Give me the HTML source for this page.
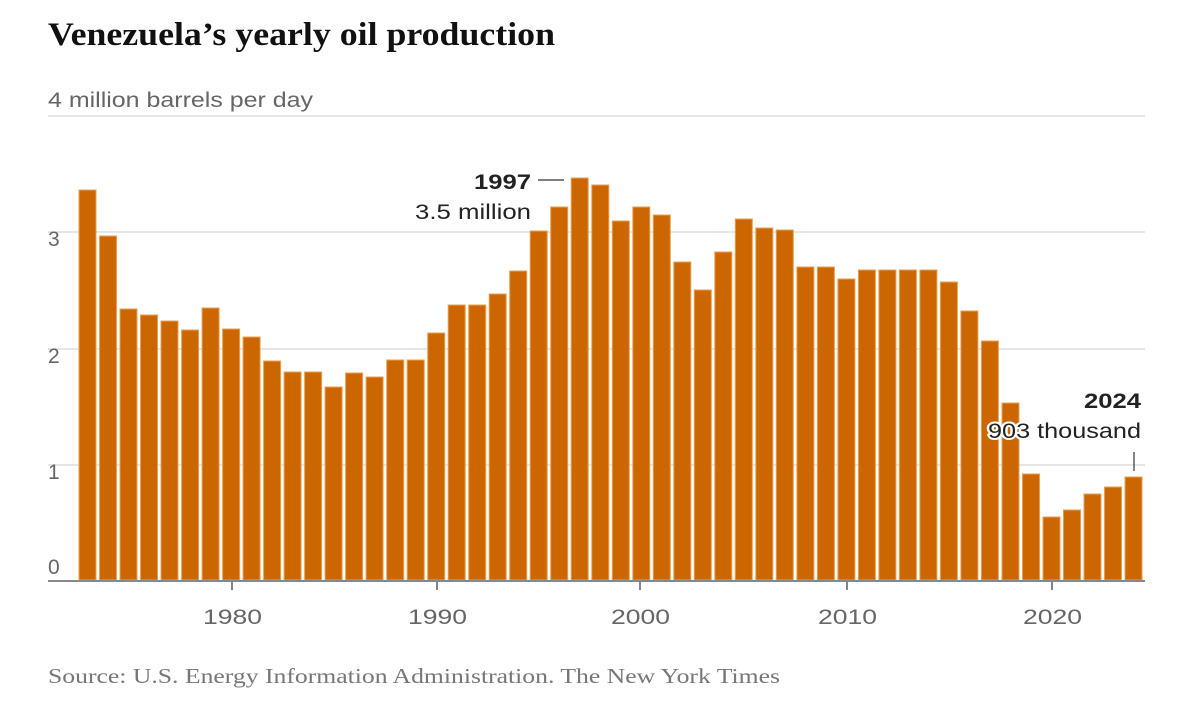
<!DOCTYPE html>
<html><head><meta charset="utf-8"><style>
body{margin:0;background:#fff;width:1200px;height:714px;overflow:hidden}
svg{display:block}
</style></head><body>
<svg width="1200" height="714" xmlns="http://www.w3.org/2000/svg">
<text x="48" y="45" font-family="Liberation Serif, serif" font-weight="bold" font-size="33" fill="#111" textLength="507" lengthAdjust="spacingAndGlyphs">Venezuela’s yearly oil production</text>
<g stroke="#ddd" stroke-width="1.5">
<line x1="48" y1="116" x2="1145" y2="116"/>
<line x1="48" y1="232" x2="1145" y2="232"/>
<line x1="48" y1="349" x2="1145" y2="349"/>
<line x1="48" y1="465" x2="1145" y2="465"/>
</g>
<g font-family="Liberation Sans, sans-serif" font-size="21" fill="#666">
<text x="48" y="107" textLength="265" lengthAdjust="spacingAndGlyphs">4 million barrels per day</text>
<text x="48" y="246">3</text>
<text x="48" y="363">2</text>
<text x="48" y="479">1</text>
<text x="48" y="574">0</text>
</g>
<g fill="#cc6600" stroke="#e8a050" stroke-width="1">
<rect x="79.0" y="190" width="17" height="390"/>
<rect x="99.5" y="236" width="17" height="344"/>
<rect x="120.0" y="309" width="17" height="271"/>
<rect x="140.5" y="315" width="17" height="265"/>
<rect x="161.0" y="321" width="17" height="259"/>
<rect x="181.6" y="330" width="17" height="250"/>
<rect x="202.1" y="308" width="17" height="272"/>
<rect x="222.6" y="329" width="17" height="251"/>
<rect x="243.1" y="337" width="17" height="243"/>
<rect x="263.6" y="361" width="17" height="219"/>
<rect x="284.1" y="372" width="17" height="208"/>
<rect x="304.6" y="372" width="17" height="208"/>
<rect x="325.1" y="387" width="17" height="193"/>
<rect x="345.6" y="373" width="17" height="207"/>
<rect x="366.1" y="377" width="17" height="203"/>
<rect x="386.7" y="360" width="17" height="220"/>
<rect x="407.2" y="360" width="17" height="220"/>
<rect x="427.7" y="333" width="17" height="247"/>
<rect x="448.2" y="305" width="17" height="275"/>
<rect x="468.7" y="305" width="17" height="275"/>
<rect x="489.2" y="294" width="17" height="286"/>
<rect x="509.7" y="271" width="17" height="309"/>
<rect x="530.2" y="231" width="17" height="349"/>
<rect x="550.7" y="207" width="17" height="373"/>
<rect x="571.2" y="178" width="17" height="402"/>
<rect x="591.8" y="185" width="17" height="395"/>
<rect x="612.3" y="221" width="17" height="359"/>
<rect x="632.8" y="207" width="17" height="373"/>
<rect x="653.3" y="215" width="17" height="365"/>
<rect x="673.8" y="262" width="17" height="318"/>
<rect x="694.3" y="290" width="17" height="290"/>
<rect x="714.8" y="252" width="17" height="328"/>
<rect x="735.3" y="219" width="17" height="361"/>
<rect x="755.8" y="228" width="17" height="352"/>
<rect x="776.3" y="230" width="17" height="350"/>
<rect x="796.9" y="267" width="17" height="313"/>
<rect x="817.4" y="267" width="17" height="313"/>
<rect x="837.9" y="279" width="17" height="301"/>
<rect x="858.4" y="270" width="17" height="310"/>
<rect x="878.9" y="270" width="17" height="310"/>
<rect x="899.4" y="270" width="17" height="310"/>
<rect x="919.9" y="270" width="17" height="310"/>
<rect x="940.4" y="282" width="17" height="298"/>
<rect x="960.9" y="311" width="17" height="269"/>
<rect x="981.4" y="341" width="17" height="239"/>
<rect x="1002.0" y="403" width="17" height="177"/>
<rect x="1022.5" y="474" width="17" height="106"/>
<rect x="1043.0" y="517" width="17" height="63"/>
<rect x="1063.5" y="510" width="17" height="70"/>
<rect x="1084.0" y="494" width="17" height="86"/>
<rect x="1104.5" y="487" width="17" height="93"/>
<rect x="1125.0" y="477" width="17" height="103"/>
</g>
<line x1="48" y1="581" x2="1145" y2="581" stroke="#888" stroke-width="2"/>
<g stroke="#333" stroke-width="1.2">
<line x1="232" y1="582" x2="232" y2="590"/>
<line x1="437" y1="582" x2="437" y2="590"/>
<line x1="640" y1="582" x2="640" y2="590"/>
<line x1="847" y1="582" x2="847" y2="590"/>
<line x1="1052" y1="582" x2="1052" y2="590"/>
<line x1="538" y1="180" x2="564" y2="180"/>
<line x1="1134" y1="452" x2="1134" y2="471"/>
</g>
<g font-family="Liberation Sans, sans-serif" font-size="21" fill="#666">
<text x="203" y="624" textLength="59" lengthAdjust="spacingAndGlyphs">1980</text>
<text x="408" y="624" textLength="59" lengthAdjust="spacingAndGlyphs">1990</text>
<text x="611" y="624" textLength="59" lengthAdjust="spacingAndGlyphs">2000</text>
<text x="818" y="624" textLength="59" lengthAdjust="spacingAndGlyphs">2010</text>
<text x="1023" y="624" textLength="59" lengthAdjust="spacingAndGlyphs">2020</text>
</g>
<g font-family="Liberation Sans, sans-serif" font-size="21" fill="#222" stroke="#fff" stroke-width="4" paint-order="stroke" stroke-linejoin="round">
<text x="474" y="189" font-weight="bold" textLength="57" lengthAdjust="spacingAndGlyphs">1997</text>
<text x="415" y="219" textLength="116" lengthAdjust="spacingAndGlyphs">3.5 million</text>
<text x="1084" y="408" font-weight="bold" textLength="57" lengthAdjust="spacingAndGlyphs">2024</text>
<text x="988" y="438" textLength="153" lengthAdjust="spacingAndGlyphs">903 thousand</text>
</g>
<text x="48" y="683" font-family="Liberation Serif, serif" font-size="21" fill="#777" textLength="732" lengthAdjust="spacingAndGlyphs">Source: U.S. Energy Information Administration.  The New York Times</text>
</svg>
</body></html>
